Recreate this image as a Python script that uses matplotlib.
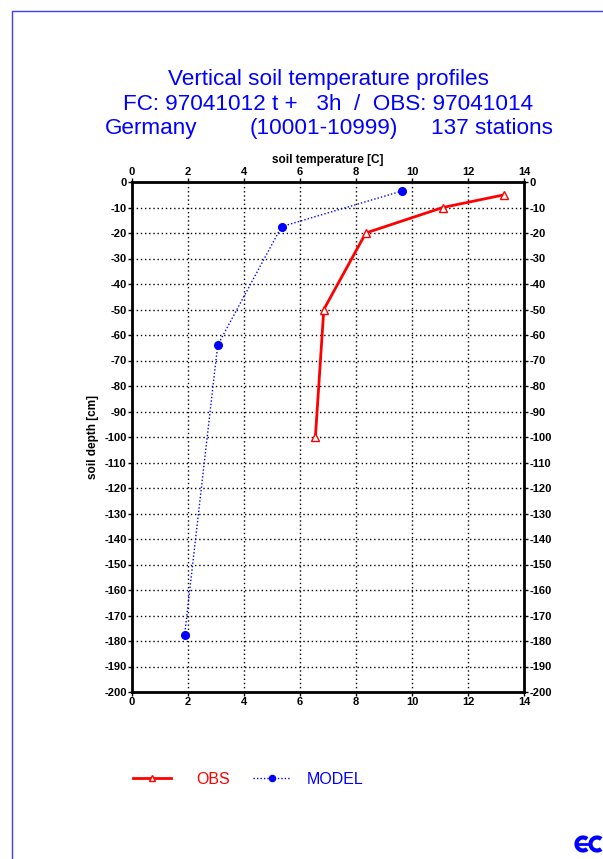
import matplotlib
matplotlib.use("Agg")
import matplotlib.pyplot as plt
from matplotlib.patches import Arc, Rectangle
from matplotlib.lines import Line2D

plt.rcParams['font.family'] = ['Liberation Sans', 'DejaVu Sans']

# ---- data ----
obs_temp = [13.3, 11.1, 8.35, 6.85, 6.55]
obs_depth = [-5, -10, -20, -50, -100]
model_temp = [9.65, 5.34, 3.06, 1.88]
model_depth = [-3.5, -17.5, -64, -177.5]
xticks = list(range(0, 15, 2))
yticks = list(range(0, -201, -10))

title1 = "Vertical soil temperature profiles"
title2 = "FC: 97041012 t +   3h  /  OBS: 97041014"
title3_parts = ["Germany", "(10001-10999)", "137 stations"]

W, H = 603, 859
fig = plt.figure(figsize=(W / 100, H / 100), dpi=100)

def fx(px):
    return px / W

def fy(py):
    return 1 - py / H

BLUE = '#0000ff'

# page frame (only top and left visible)
fig.patches.append(Rectangle((fx(12), fy(900)), fx(700), fy(11) - fy(900),
                             transform=fig.transFigure, fill=False,
                             edgecolor='#3d3dff', lw=1.0))

# titles
fs_t = 16.2
fig.text(fx(328), fy(85), title1, color=BLUE, fontsize=fs_t, ha='center', va='baseline')
fig.text(fx(328), fy(110), title2, color=BLUE, fontsize=fs_t, ha='center', va='baseline')
fig.text(fx(105), fy(134), title3_parts[0], color=BLUE, fontsize=fs_t, ha='left', va='baseline')
fig.text(fx(250), fy(134), title3_parts[1], color=BLUE, fontsize=fs_t, ha='left', va='baseline')
fig.text(fx(431), fy(134), title3_parts[2], color=BLUE, fontsize=fs_t, ha='left', va='baseline')

ax = fig.add_axes([fx(132), fy(692), fx(524) - fx(132), fy(182) - fy(692)])
ax.set_xlim(0, 14)
ax.set_ylim(-200, 0)

l_obs, = ax.plot(obs_temp, obs_depth, color='red', lw=2, marker='^', markersize=6,
                 markerfacecolor='white', markeredgecolor='red', markeredgewidth=1.0,
                 label='OBS', zorder=4)
l_mod, = ax.plot(model_temp, model_depth, color='blue', lw=1, linestyle=(0, (1, 1.5)),
                 marker='o', markersize=5.5, markerfacecolor='blue', markeredgecolor='blue',
                 label='MODEL', zorder=4)

ax.set_xticks(xticks)
ax.set_yticks(yticks)
ax.set_xticklabels([str(v) for v in xticks], fontweight='bold', fontsize=8)
ax.set_yticklabels([str(v) for v in yticks], fontweight='bold', fontsize=8)
ax.tick_params(axis='both', direction='out', length=3, width=1, pad=0.8,
               top=True, right=True, labeltop=True, labelright=True)
ax.grid(True, color='black', linestyle=(0, (1, 2)), lw=1)
for s in ax.spines.values():
    s.set_linewidth(2)

ax.set_xlabel('soil temperature [C]', fontsize=8.5, fontweight='bold')
ax.xaxis.set_label_position('top')
ax.xaxis.labelpad = 3
ax.set_ylabel('soil depth [cm]', fontsize=8.5, fontweight='bold')
ax.yaxis.set_label_position('left')
ax.yaxis.labelpad = 4

# legend (two entries placed separately)
common = dict(loc='center left', frameon=False, fontsize=11.5, handlelength=2.4,
              borderpad=0, borderaxespad=0, numpoints=1, markerscale=0.8)
leg1 = fig.legend([l_obs], ['OBS'], bbox_to_anchor=(fx(133), fy(779)),
                  handletextpad=1.55, **common)
leg2 = fig.legend([l_mod], ['MODEL'], bbox_to_anchor=(fx(253), fy(779)),
                  handletextpad=0.95, **common)
leg1.get_texts()[0].set_color('red')
leg2.get_texts()[0].set_color('blue')

# ECMWF-like logo (bottom right, partly cut)
lw_logo = 3
fig.patches.append(Arc((fx(583), fy(844)), fx(13), (fy(0) - fy(13)), theta1=40, theta2=320,
                       transform=fig.transFigure, color=BLUE, lw=lw_logo))
fig.patches.append(Arc((fx(597), fy(844)), fx(13), (fy(0) - fy(13)), theta1=40, theta2=320,
                       transform=fig.transFigure, color=BLUE, lw=lw_logo))
fig.lines.append(Line2D([fx(578), fx(590)], [fy(844), fy(844)], transform=fig.transFigure,
                        color=BLUE, lw=2))

fig.savefig('out.png', dpi=100)
